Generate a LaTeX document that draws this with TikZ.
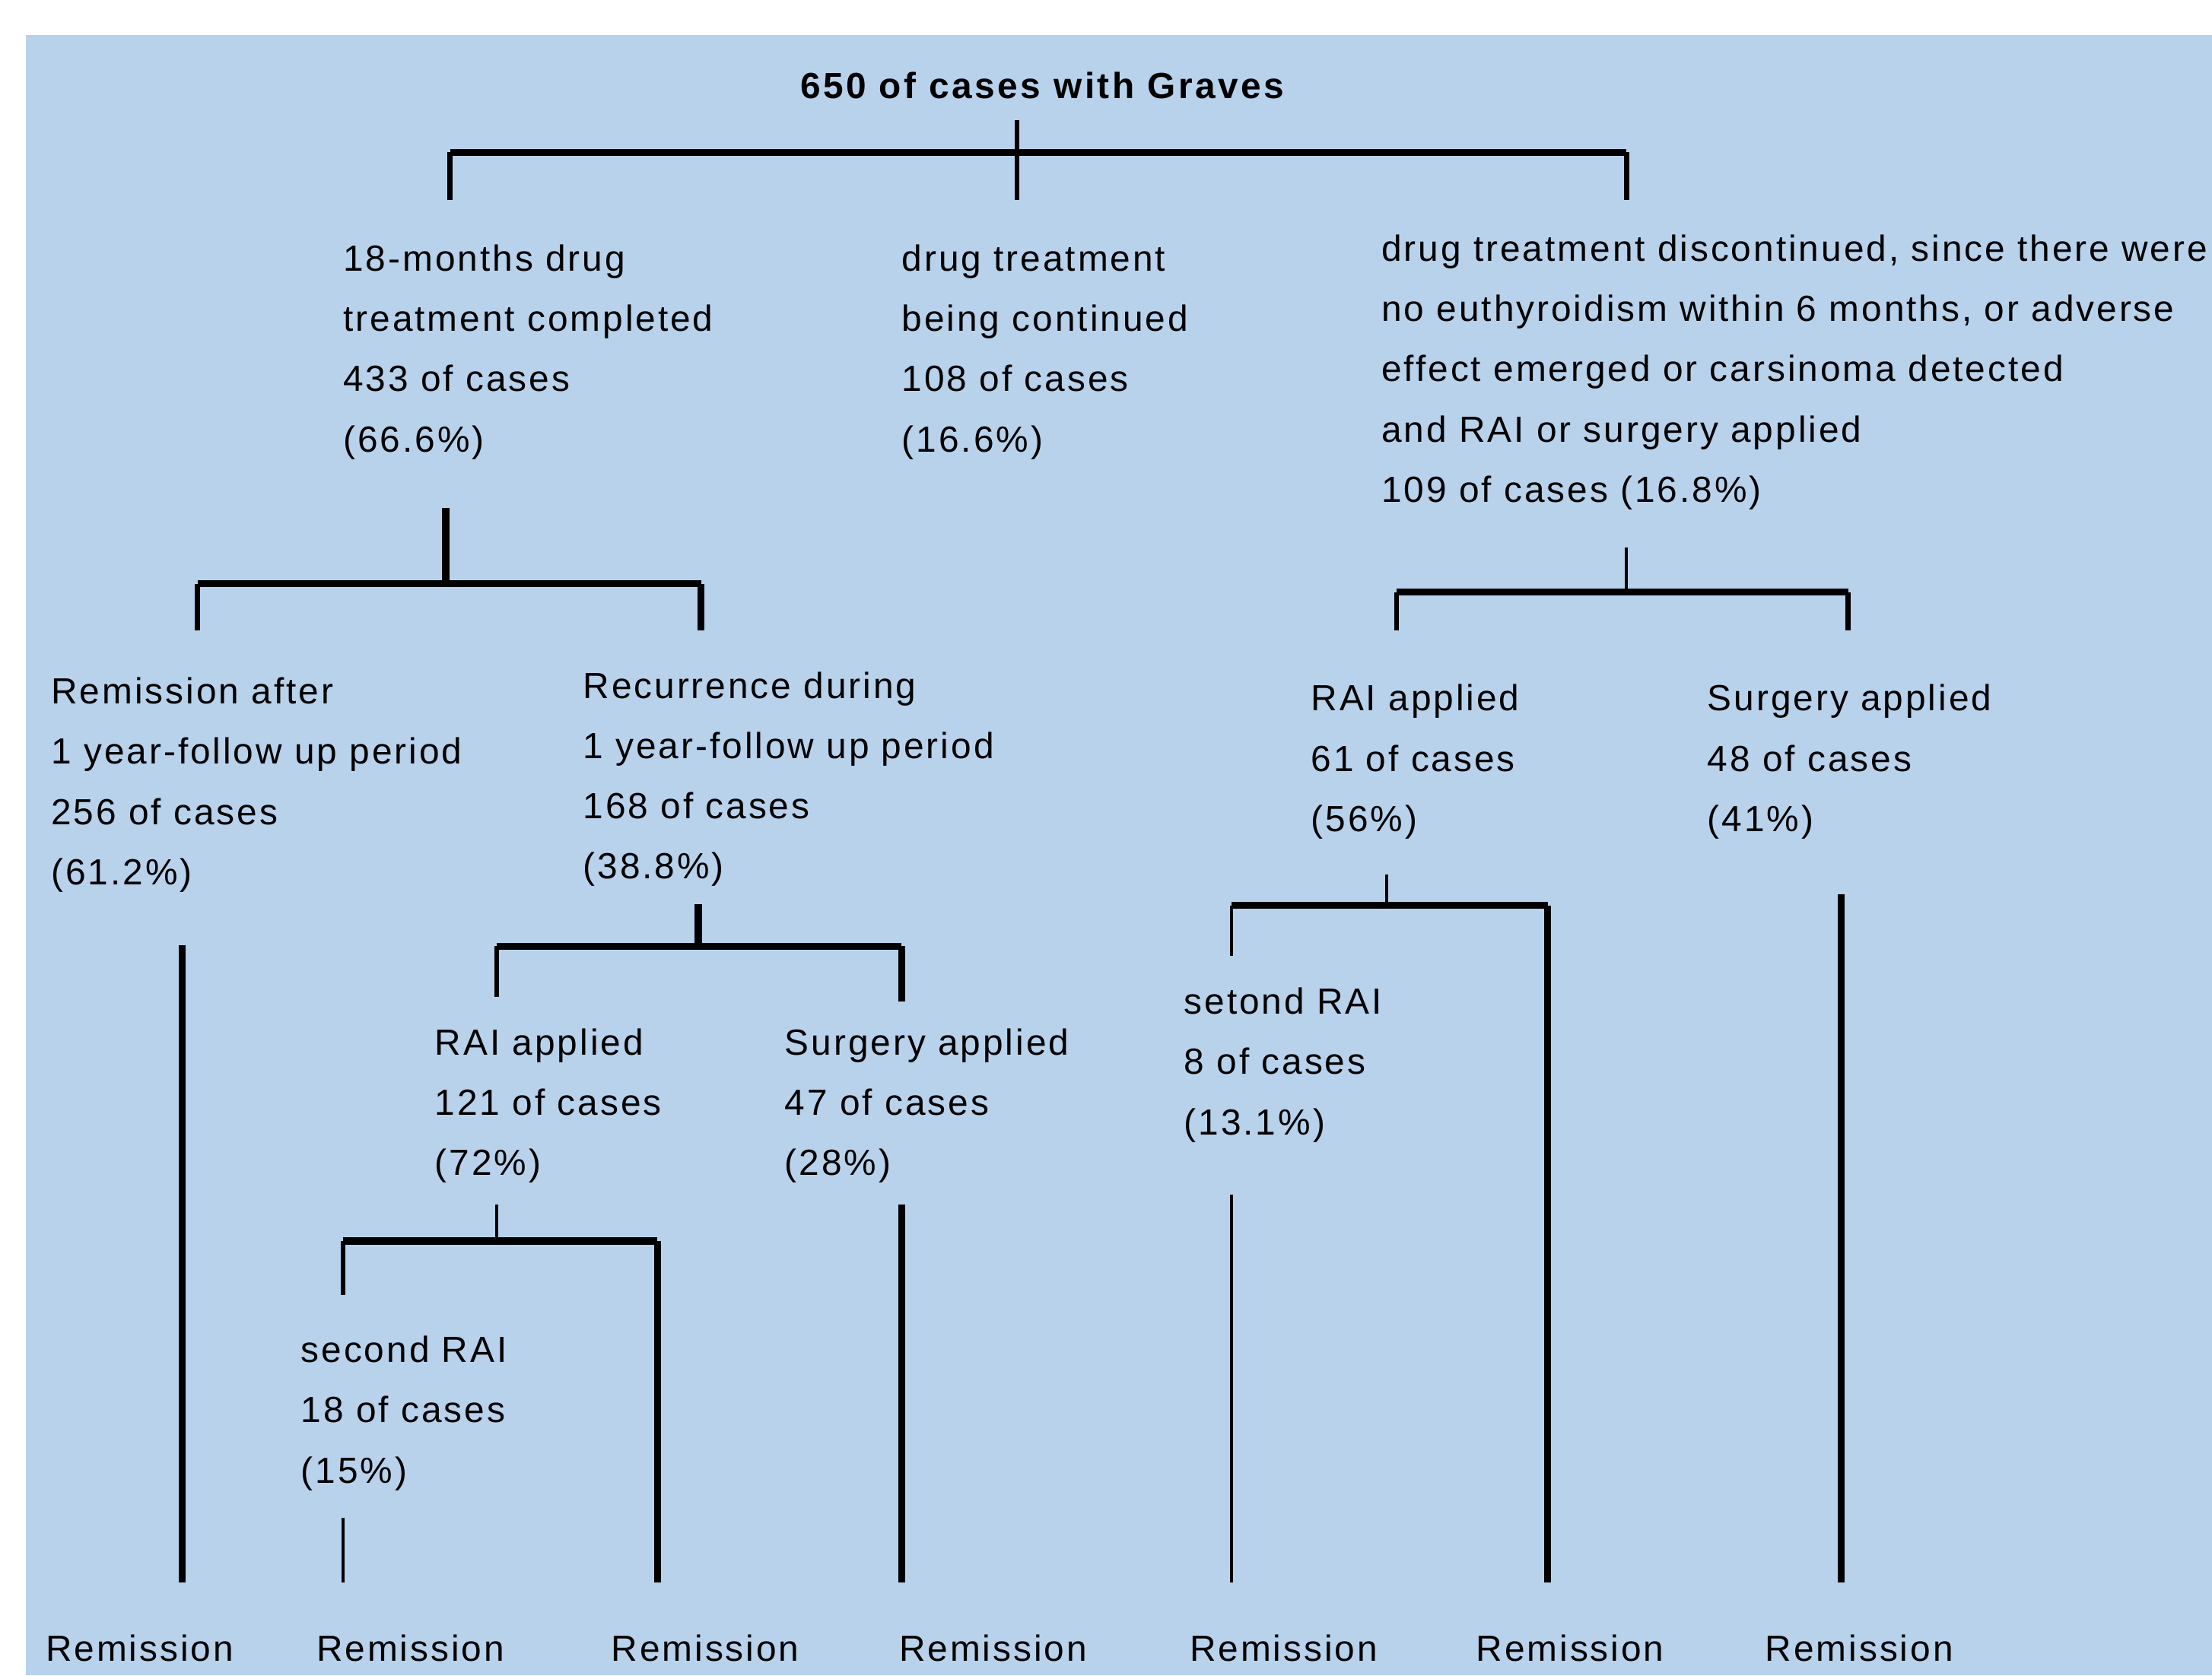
\documentclass[tikz,border=0pt]{standalone}
\usepackage{fontspec}
\setmainfont{Liberation Sans}[LetterSpace=6.2]
\usepackage{xcolor}
\definecolor{chartblue}{RGB}{184,210,236}

\begin{document}
\begin{tikzpicture}[x=0.018546cm, y=-0.018546cm,
    txt/.style={anchor=north west, inner sep=0pt, align=left,
        font=\fontsize{13.6}{22.55}\selectfont},
    bar/.style={line width=2.6pt},
    tick/.style={line width=1.8pt},
    hair/.style={line width=1.2pt}]
    % Page and background
    \useasboundingbox (0,0) rectangle (1568,1188);
    \fill[chartblue] (18.3,25) rectangle (1568,1188);

    % Title
    \node[txt, font=\fontsize{13.6}{22.55}\selectfont\bfseries\addfontfeature{LetterSpace=7.4}] (title) at (567,51) {650 of cases with Graves};

    % First level
    \node[txt] (comp) at (243,173) {18-months drug\\treatment completed\\433 of cases\\(66.6\%)};
    \node[txt] (cont) at (639,173) {drug treatment\\being continued\\108 of cases\\(16.6\%)};
    \node[txt] (disc) at (979,166) {drug treatment discontinued, since there were\\no euthyroidism within 6 months, or adverse\\effect emerged or carsinoma detected\\and RAI or surgery applied\\109 of cases (16.8\%)};

    % Second level
    \node[txt] (remis) at (36,480) {Remission after\\1 year-follow up period\\256 of cases\\(61.2\%)};
    \node[txt] (recur) at (413,476) {Recurrence during\\1 year-follow up period\\168 of cases\\(38.8\%)};
    \node[txt] (raiB) at (929,485) {RAI applied\\61 of cases\\(56\%)};
    \node[txt] (surgB) at (1210,485) {Surgery applied\\48 of cases\\(41\%)};

    % Third level
    \node[txt] (raiA) at (308,729) {RAI applied\\121 of cases\\(72\%)};
    \node[txt] (surgA) at (556,729) {Surgery applied\\47 of cases\\(28\%)};
    \node[txt] (secB) at (839,700) {setond RAI\\8 of cases\\(13.1\%)};
    \node[txt] (secA) at (213,947) {second RAI\\18 of cases\\(15\%)};

    % Outcomes
    \node[txt] (rem1) at (32,1159) {Remission};
    \node[txt] (rem2) at (224,1159) {Remission};
    \node[txt] (rem3) at (433,1159) {Remission};
    \node[txt] (rem4) at (637,1159) {Remission};
    \node[txt] (rem5) at (843,1159) {Remission};
    \node[txt] (rem6) at (1046,1159) {Remission};
    \node[txt] (rem7) at (1251,1159) {Remission};

    % Fork below the title
    \coordinate (title-out) at (721,85);
    \coordinate (cont-in) at (721,142);
    \coordinate (comp-in) at (319,142);
    \coordinate (disc-in) at (1153,142);
    \draw[tick] (title-out) -- (cont-in);
    \draw[bar] (319,108) -- (1153,108);
    \draw[tick] (319,108) -- (comp-in);
    \draw[tick] (1153,108) -- (disc-in);

    % Fork below the completed treatment
    \coordinate (comp-out) at (316,360);
    \coordinate (remis-in) at (140,447);
    \coordinate (recur-in) at (497,447);
    \draw[bar] (comp-out) -- (316,414);
    \draw[bar] (140,414) -- (497,414);
    \draw[tick] (140,414) -- (remis-in);
    \draw[bar] (497,414) -- (recur-in);

    % Fork below the discontinued treatment
    \coordinate (disc-out) at (1153,388);
    \coordinate (raiB-in) at (990,447);
    \coordinate (surgB-in) at (1310,447);
    \draw[hair] (disc-out) -- (1153,420);
    \draw[bar] (990,420) -- (1310,420);
    \draw[tick] (990,420) -- (raiB-in);
    \draw[tick] (1310,420) -- (surgB-in);

    % Fork below the recurrence
    \coordinate (recur-out) at (495,641);
    \coordinate (raiA-in) at (352,707);
    \coordinate (surgA-in) at (639,710);
    \draw[bar] (recur-out) -- (495,671);
    \draw[bar] (352,671) -- (639,671);
    \draw[tick] (352,671) -- (raiA-in);
    \draw[bar] (639,671) -- (surgA-in);

    % Fork below RAI (right)
    \coordinate (raiB-out) at (983,620);
    \coordinate (secB-in) at (873,678);
    \coordinate (rem6-in) at (1097,1122);
    \draw[hair] (raiB-out) -- (983,642);
    \draw[bar] (873,642) -- (1097,642);
    \draw[hair] (873,642) -- (secB-in);
    \draw[bar] (1097,642) -- (rem6-in);

    % Fork below RAI (left)
    \coordinate (raiA-out) at (352,854);
    \coordinate (secA-in) at (243,918);
    \coordinate (rem3-in) at (466,1122);
    \draw[hair] (raiA-out) -- (352,880);
    \draw[bar] (243,880) -- (466,880);
    \draw[tick] (243,880) -- (secA-in);
    \draw[bar] (466,880) -- (rem3-in);

    % Lines down to remission
    \coordinate (remis-out) at (129,670);
    \coordinate (rem1-in) at (129,1122);
    \draw[bar] (remis-out) -- (rem1-in);
    \coordinate (secA-out) at (243,1076);
    \coordinate (rem2-in) at (243,1122);
    \draw[hair] (secA-out) -- (rem2-in);
    \coordinate (surgA-out) at (639,854);
    \coordinate (rem4-in) at (639,1122);
    \draw[bar] (surgA-out) -- (rem4-in);
    \coordinate (secB-out) at (873,847);
    \coordinate (rem5-in) at (873,1122);
    \draw[hair] (secB-out) -- (rem5-in);
    \coordinate (surgB-out) at (1305,634);
    \coordinate (rem7-in) at (1305,1122);
    \draw[bar] (surgB-out) -- (rem7-in);
\end{tikzpicture}
\end{document}
